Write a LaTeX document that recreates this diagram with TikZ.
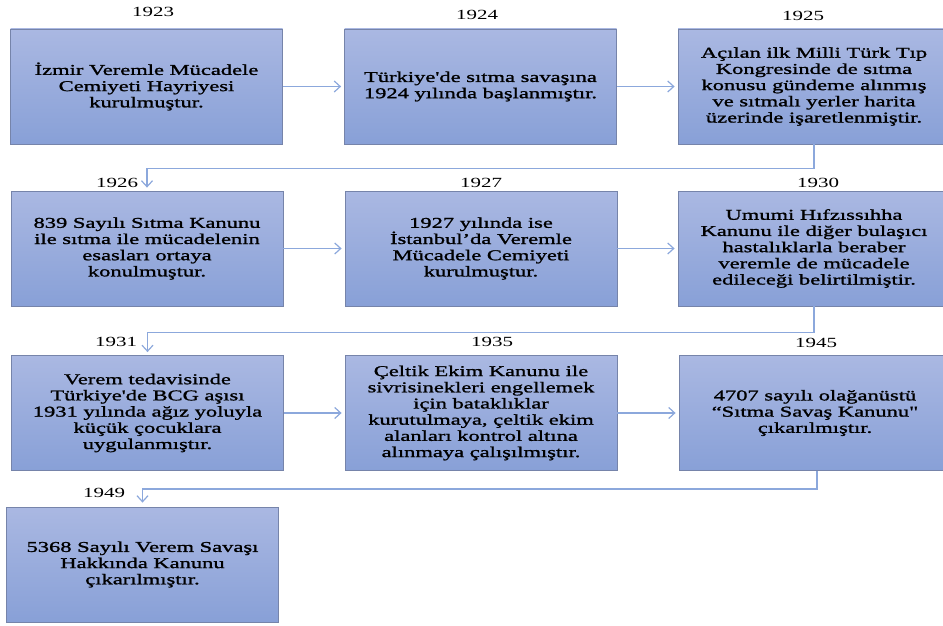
\documentclass[tikz,border=0pt]{standalone}
\usepackage{fontspec}
\setmainfont{Liberation Serif}[FakeStretch=1.5, Ligatures=TeXOff]
\newfontfamily\boxfont{Liberation Serif}[FakeStretch=1.5, FakeBold=1.3, Ligatures=TeXOff]
\usetikzlibrary{arrows.meta}
\definecolor{BoxTop}{RGB}{170,184,226}
\definecolor{BoxBottom}{RGB}{136,160,215}
\definecolor{BoxLine}{RGB}{118,132,170}
\definecolor{LinkBlue}{RGB}{140,168,220}
\tikzstyle{EventNode}=[rectangle, draw=BoxLine, thick, top color=BoxTop, bottom color=BoxBottom, minimum width=272pt, minimum height=115pt, inner sep=0pt, align=center, text=black, font=\boxfont\fontsize{15}{16.2}\selectfont]
\tikzstyle{YearNode}=[inner sep=0pt, text=black, font=\fontsize{14}{16}\selectfont]
\tikzstyle{NextEdge}=[->, >={Straight Barb[length=6pt,width=11pt]}, draw=LinkBlue, line width=1.2pt, shorten >=3pt]
\tikzstyle{TurnEdge}=[NextEdge, shorten >=0pt]

\begin{document}
\begin{tikzpicture}[x=1pt, y=-1pt]
\useasboundingbox (0,0) rectangle (943,626);

\node[EventNode](E1923) at (146.5,86.5) {İzmir Veremle Mücadele\\Cemiyeti Hayriyesi\\kurulmuştur.};
\node[EventNode](E1924) at (480.5,86.5) {Türkiye'de sıtma savaşına\\1924 yılında başlanmıştır.};
\node[EventNode](E1925) at (814,86.5) {Açılan ilk Milli Türk Tıp\\Kongresinde de sıtma\\konusu gündeme alınmış\\ve sıtmalı yerler harita\\üzerinde işaretlenmiştir.};
\node[EventNode](E1926) at (147,248.5) {839 Sayılı Sıtma Kanunu\\ile sıtma ile mücadelenin\\esasları ortaya\\konulmuştur.};
\node[EventNode](E1927) at (481,248.5) {1927 yılında ise\\İstanbul’da Veremle\\Mücadele Cemiyeti\\kurulmuştur.};
\node[EventNode](E1930) at (814,248.5) {Umumi Hıfzıssıhha\\Kanunu ile diğer bulaşıcı\\hastalıklarla beraber\\veremle de mücadele\\edileceği belirtilmiştir.};
\node[EventNode](E1931) at (147.5,413) {Verem tedavisinde\\Türkiye'de BCG aşısı\\1931 yılında ağız yoluyla\\küçük çocuklara\\uygulanmıştır.};
\node[EventNode](E1935) at (481,413) {Çeltik Ekim Kanunu ile\\sivrisinekleri engellemek\\için bataklıklar\\kurutulmaya, çeltik ekim\\alanları kontrol altına\\alınmaya çalışılmıştır.};
\node[EventNode](E1945) at (815,413) {4707 sayılı olağanüstü\\“Sıtma Savaş Kanunu"\\çıkarılmıştır.};
\node[EventNode](E1949) at (142.5,564.5) {5368 Sayılı Verem Savaşı\\Hakkında Kanunu\\çıkarılmıştır.};

\node[YearNode](Y1923) at (153,12) {1923};
\node[YearNode](Y1924) at (477,15) {1924};
\node[YearNode](Y1925) at (803,16) {1925};
\node[YearNode](Y1926) at (117,183) {1926};
\node[YearNode](Y1927) at (481,183) {1927};
\node[YearNode](Y1930) at (818,183) {1930};
\node[YearNode](Y1931) at (116,342) {1931};
\node[YearNode](Y1935) at (492,342) {1935};
\node[YearNode](Y1945) at (816,343) {1945};
\node[YearNode](Y1949) at (104,493) {1949};

\draw[NextEdge](E1923) -- (E1924);
\draw[NextEdge](E1924) -- (E1925);
\draw[NextEdge](E1926) -- (E1927);
\draw[NextEdge](E1927) -- (E1930);
\draw[NextEdge](E1931) -- (E1935);
\draw[NextEdge](E1935) -- (E1945);

\draw[TurnEdge](E1925.south) -- ++(0,24) -| ([yshift=3pt]E1926.north);
\draw[TurnEdge](E1930.south) -- ++(0,26) -| ([yshift=3pt]E1931.north);
\draw[TurnEdge]([xshift=2pt]E1945.south) -- ++(0,18) -| ([yshift=4pt]E1949.north);
\end{tikzpicture}
\end{document}
